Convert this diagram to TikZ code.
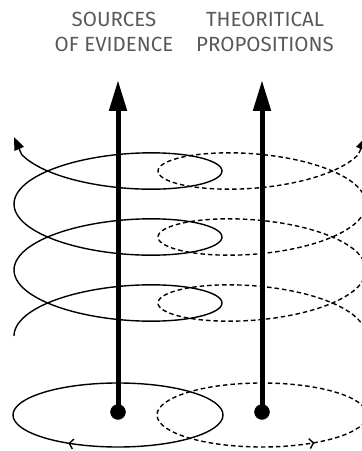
\documentclass[tikz,border=0pt]{standalone}
\usepackage{fontspec}
\newfontfamily\labelfont{Fira Sans}
\usetikzlibrary{arrows.meta,decorations.markings}

\begin{document}
\begin{tikzpicture}[
	x=1pt, y=1pt,
	axis/.style={ line width=5pt, -{Triangle[length=31pt,width=17pt]} },
	dot/.style={ circle, draw, fill, inner sep=0pt, minimum size=15pt },
	coil/.style={ line width=1.4pt },
	dashcoil/.style={ line width=1.4pt, dash pattern=on 4.5pt off 3pt },
	heading/.style={ text=black!65, font=\labelfont\fontsize{20.5}{25}\selectfont, align=center, inner sep=0pt }
]

\useasboundingbox (0,0) rectangle (362,451);

\foreach \cx/\sx/\sty in {118/1/coil,262/-1/dashcoil}
	\draw[\sty,-{Triangle[length=13pt,width=10pt]}]
		plot[domain=180:-878,samples=260,smooth,variable=\t]
		({\cx+\sx*104*cos(\t)},{148-66/360*\t+33*sin(\t)}) -- ({\cx-\sx*104},314);

\draw[coil,postaction={decorate},decoration={markings,
	mark=at position 0.642 with {\arrowreversed{Straight Barb[length=4pt,width=10pt]}}}]
	(118,36) ellipse [x radius=105, y radius=32];
\draw[dashcoil,postaction={decorate},decoration={markings,
	mark=at position 0.864 with {\arrow{Straight Barb[length=4pt,width=10pt]}}}]
	(262,36) ellipse [x radius=105, y radius=32];

\node at (118,39) (srcdot) [dot] {};
\node at (262,39) (theodot) [dot] {};
\coordinate (srctip) at (118,371);
\coordinate (theotip) at (262,371);
\draw[axis] (srcdot.center) -- (srctip);
\draw[axis] (theodot.center) -- (theotip);

\node at (114,439) (src) [heading,anchor=north] {SOURCES\\OF EVIDENCE};
\node at (265,439) (theo) [heading,anchor=north] {THEORITICAL\\PROPOSITIONS};

\end{tikzpicture}
\end{document}
